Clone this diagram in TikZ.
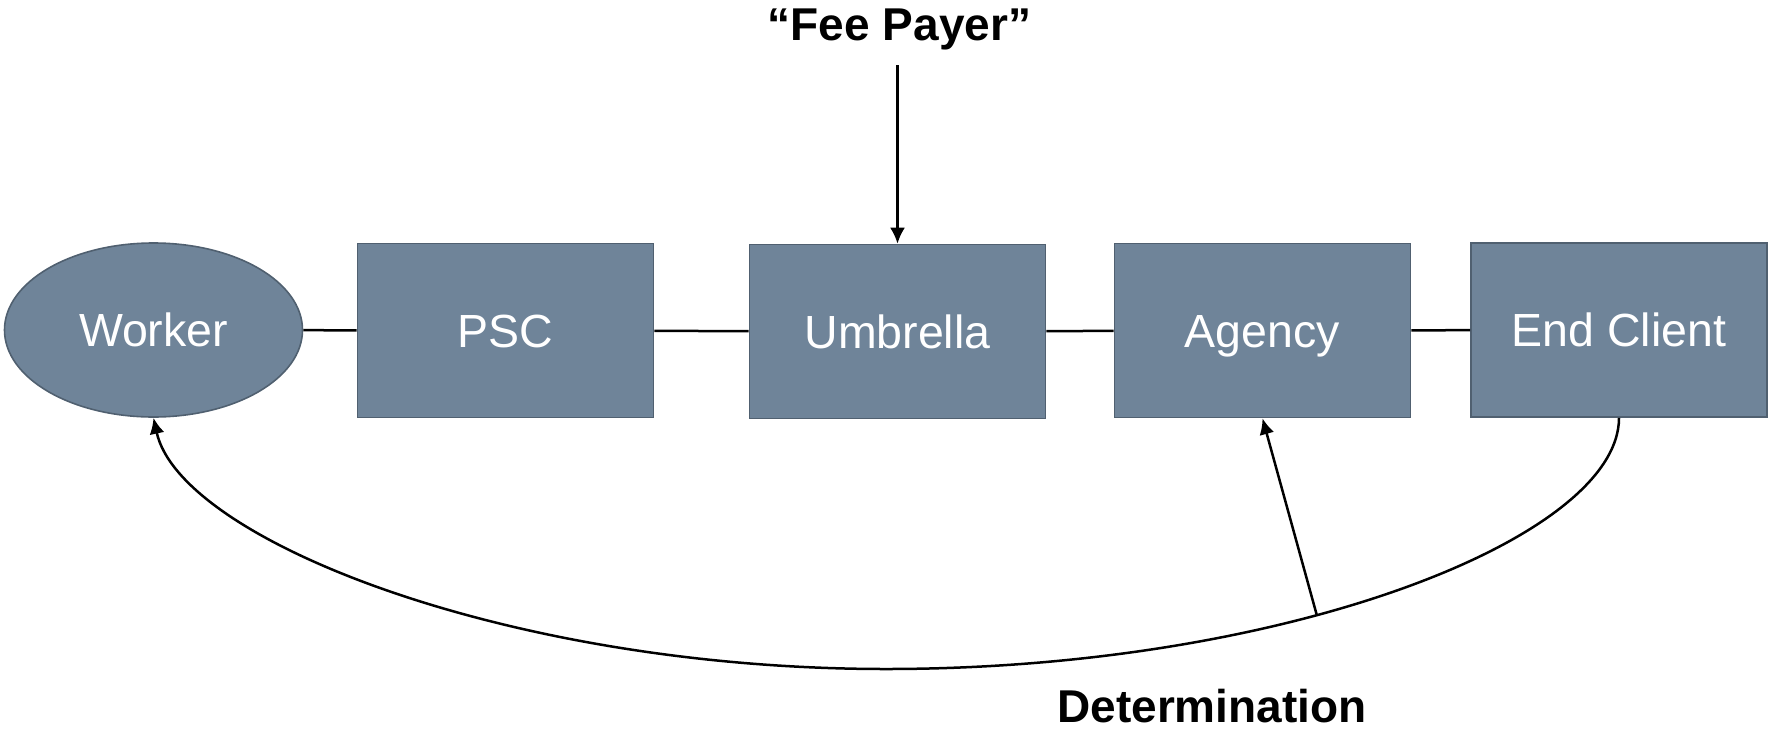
\documentclass[tikz,border=0pt]{standalone}
\usepackage{fontspec}
\setmainfont{Liberation Sans}
\usetikzlibrary{arrows.meta,shapes.geometric}
\definecolor{boxfill}{RGB}{111,132,153}
\definecolor{boxline}{RGB}{80,96,112}
\begin{document}
\begin{tikzpicture}[x=1pt,y=-1pt,
  ent/.style={fill=boxfill,draw=boxline,line width=1.6pt,text=white,
    font=\fontsize{46.5}{50}\selectfont,inner sep=0pt,text height=33.3pt,text depth=0pt},
  boxn/.style={ent,rectangle,minimum width=296pt,minimum height=174pt},
  ellnode/.style={ent,ellipse,minimum width=298pt,minimum height=174pt},
  conn/.style={line width=2.5pt,black},
  arr/.style={conn,-{Latex[length=16pt,width=15pt]}},
  lbl/.style={font=\bfseries\fontsize{46}{50}\selectfont,inner sep=0pt,anchor=base}
]
\useasboundingbox (0,0) rectangle (1771,737);

\node[ellnode] (w) at (153.5,330) {Worker};
\node[boxn] (psc) at (505.5,330.5) {PSC};
\node[boxn] (umb) at (897.5,331.5) {Umbrella};
\node[boxn] (ag) at (1262.5,330.5) {Agency};
\node[boxn] (ec) at (1619,330) {End Client};

\draw[conn] (w) -- (psc);
\draw[conn] (psc) -- (umb);
\draw[conn] (umb) -- (ag);
\draw[conn] (ag) -- (ec);

\node[lbl] (fee) at (899.5,40.7) {“Fee Payer”};
\coordinate (feetop) at (897.5,65);
\draw[arr] (feetop) -- (umb.north);

\node[lbl] (det) at (1212,722) {Determination};

\draw[arr] (ec.south) .. controls (1619,538) and (1286,669) .. (886,669) coordinate[pos=0.6] (dp)
  .. controls (506,669) and (180,539) .. (w.south);
\draw[arr] (dp) -- (ag.south);
\end{tikzpicture}
\end{document}
